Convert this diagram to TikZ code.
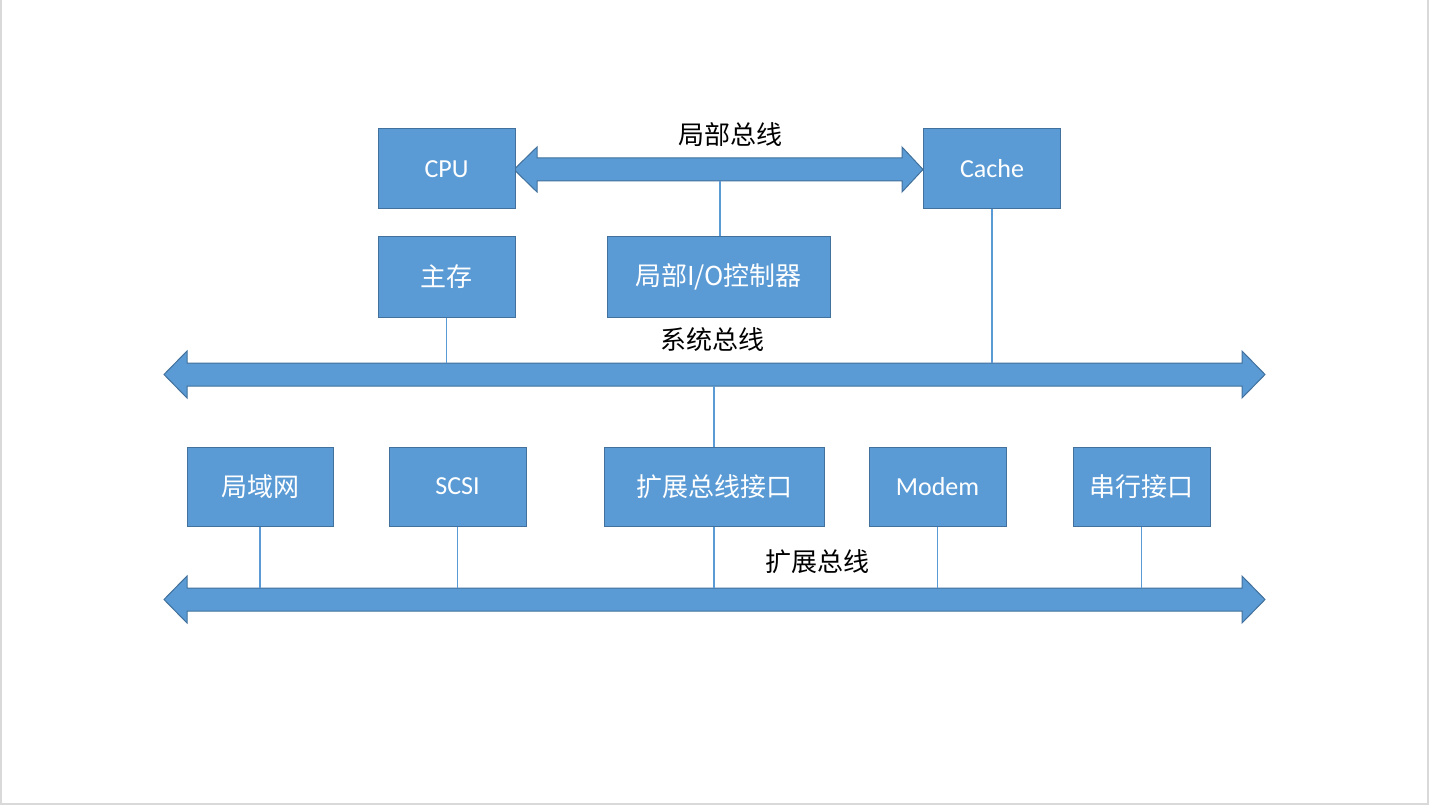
\documentclass[tikz,border=0pt]{standalone}
\usepackage{fontspec}
\setmainfont{Carlito}
\newfontfamily\cjk{Noto Sans CJK SC}
\definecolor{boxfill}{HTML}{5B9BD5}
\definecolor{boxline}{HTML}{41719C}
\definecolor{framegray}{HTML}{D9D9D9}
\begin{document}
\begin{tikzpicture}[x=0.75pt,y=-0.75pt,
  blk/.style={draw=boxline,fill=boxfill,line width=0.75pt,text=white,minimum width=102.75pt,minimum height=60pt,inner sep=0pt,font=\fontsize{19.5}{22}\selectfont},
  cjkblk/.style={blk,font=\cjk\fontsize{19.5}{22}\selectfont},
  lbl/.style={text=black,inner sep=0pt,font=\cjk\fontsize{19.5}{22}\selectfont},
  bus/.style={draw=boxline,fill=boxfill,line width=0.75pt,line join=miter},
  wire/.style={draw=boxfill,line width=0.9pt}]
\useasboundingbox (0,0) rectangle (1429,806);
\fill[white] (0,0) rectangle (1429,806);
% page frame
\draw[framegray,line width=1.5pt] (1,0) -- (1,803.5) -- (1427.5,803.5) -- (1427.5,0);

% buses
\path[bus] (514,169.5) -- (537,147) -- (537,158) -- (902,158) -- (902,147) -- (923,169.5) -- (902,192) -- (902,181) -- (537,181) -- (537,192) -- cycle;
\path[bus] (164,374.5) -- (187,351) -- (187,363) -- (1242,363) -- (1242,351) -- (1265,374.5) -- (1242,398) -- (1242,386) -- (187,386) -- (187,398) -- cycle;
\path[bus] (164,599.5) -- (187,576) -- (187,588) -- (1242,588) -- (1242,576) -- (1265,599.5) -- (1242,623) -- (1242,611) -- (187,611) -- (187,623) -- cycle;
\coordinate (locB) at (720,181);
\coordinate (sysT) at (0,363);
\coordinate (sysB) at (714,386);
\coordinate (expT) at (0,588);

% blocks
\node[blk] (cpu) at (446.5,169) {CPU};
\node[blk] (cache) at (992,169) {Cache};
\node[cjkblk] (mem) at (446.5,277) {主存};
\node[cjkblk,minimum width=167.25pt] (lio) at (718.5,277) {局部I/O控制器};
\node[cjkblk,minimum width=109.5pt,minimum height=59.25pt] (lan) at (260,486.5) {局域网};
\node[blk,minimum height=59.25pt] (scsi) at (457.5,486.5) {SCSI};
\node[cjkblk,minimum width=165pt,minimum height=59.25pt] (ebi) at (714,486.5) {扩展总线接口};
\node[blk,minimum height=59.25pt] (modem) at (937.5,486.5) {Modem};
\node[cjkblk,minimum height=59.25pt] (ser) at (1141.5,486.5) {串行接口};

% labels
\node[lbl] (l1) at (730,135) {局部总线};
\node[lbl] (l2) at (712,340) {系统总线};
\node[lbl] (l3) at (817,562) {扩展总线};

% wires
\draw[wire] (locB) -- (locB |- lio.north);
\draw[wire] (mem.south) -- (mem.south |- sysT);
\draw[wire] (cache.south) -- (cache.south |- sysT);
\draw[wire] (sysB) -- (sysB |- ebi.north);
\draw[wire] (lan.south) -- (lan.south |- expT);
\draw[wire] (scsi.south) -- (scsi.south |- expT);
\draw[wire] (ebi.south) -- (ebi.south |- expT);
\draw[wire] (modem.south) -- (modem.south |- expT);
\draw[wire] (ser.south) -- (ser.south |- expT);
\end{tikzpicture}
\end{document}
